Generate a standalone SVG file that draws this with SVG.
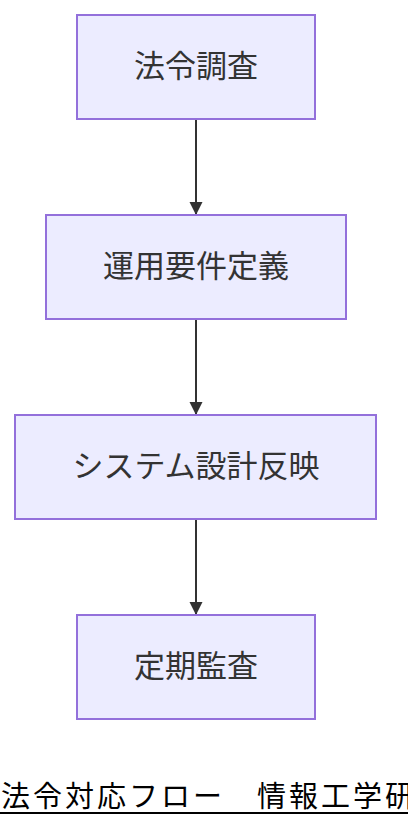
<svg xmlns="http://www.w3.org/2000/svg" width="408" height="828" viewBox="0 0 408 828">
<style>
.node rect{fill:#ECECFF;stroke:#9370DB;stroke-width:2}
.node text{font-family:"Noto Sans CJK JP","Noto Sans",sans-serif;font-size:31px;fill:#333;text-anchor:middle;dominant-baseline:central}
.edge{stroke:#333;stroke-width:2;fill:none}
.title{font-family:"Noto Sans CJK JP",sans-serif;font-size:29px;fill:#000;letter-spacing:3px}
</style>
<defs>
<marker id="arr" viewBox="0 0 10 10" refX="10" refY="5" markerWidth="13" markerHeight="14" markerUnits="userSpaceOnUse" orient="auto">
<path d="M0,0 L10,5 L0,10 z" fill="#333"/>
</marker>
</defs>
<rect width="408" height="828" fill="#fff"/>
<g id="connectors">
<line class="edge" x1="196" y1="119" x2="196" y2="215" marker-end="url(#arr)"/>
<line class="edge" x1="196" y1="319" x2="196" y2="415" marker-end="url(#arr)"/>
<line class="edge" x1="196" y1="519" x2="196" y2="615" marker-end="url(#arr)"/>
</g>
<g id="n1" class="node"><rect x="77" y="15" width="238" height="104"/><text x="196" y="63">法令調査</text></g>
<g id="n2" class="node"><rect x="46" y="215" width="300" height="104"/><text x="196" y="263">運用要件定義</text></g>
<g id="n3" class="node"><rect x="15" y="415" width="361" height="104"/><text x="196" y="463">システム設計反映</text></g>
<g id="n4" class="node"><rect x="77" y="615" width="238" height="104"/><text x="196" y="663">定期監査</text></g>
<g id="title"><text class="title" x="1" y="807">法令対応フロー　情報工学研</text>
<line x1="0" y1="813" x2="408" y2="813" stroke="#000" stroke-width="2"/></g>
</svg>
